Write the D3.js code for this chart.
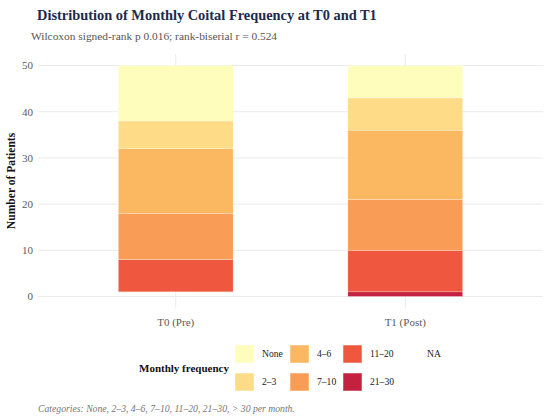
<!DOCTYPE html>
<html><head><meta charset="utf-8">
<script src="https://cdn.jsdelivr.net/npm/d3@7/dist/d3.min.js"></script>
<style>body{margin:0;background:#fff}svg{display:block}</style>
</head><body><svg id="c" width="550" height="419"></svg>
<script>
const timepoints = ["T0 (Pre)", "T1 (Post)"];
const categories = ["None", "2–3", "4–6", "7–10", "11–20", "21–30", "NA"];
const countsT0 = [12, 6, 14, 10, 7, 0, 1];
const countsT1 = [7, 7, 15, 11, 9, 1, 0];
const colors = ["#fefdbb", "#fddb87", "#fbb860", "#f99c55", "#f0573f", "#c4203f", "none"];
const yTicks = [0, 10, 20, 30, 40, 50];

(function(){
const svg = d3.select("#c");
const serif = "'Liberation Serif','Times New Roman',serif";
const pL = 38, pR = 543, pT = 54, pB = 308;

const x = d3.scaleBand().domain(timepoints).range([pL, pR]).paddingInner(0).paddingOuter(0.1);
const xc = d => x(d) + x.bandwidth() / 2;
const y = d3.scaleLinear().domain([-2.5, 52.5]).range([pB, pT]);

// grid
svg.append("g").selectAll("line").data(yTicks).join("line")
  .attr("x1", pL).attr("x2", pR).attr("y1", d => y(d)).attr("y2", d => y(d))
  .attr("stroke", "#ebebeb").attr("stroke-width", 1);
svg.append("g").selectAll("line").data(timepoints).join("line")
  .attr("x1", d => xc(d)).attr("x2", d => xc(d)).attr("y1", pT).attr("y2", pB)
  .attr("stroke", "#ebebeb").attr("stroke-width", 1);

// stacked bars (NA at bottom, None at top)
const rows = [countsT0, countsT1];
const barW = x.bandwidth() * 0.5;
timepoints.forEach((tp, i) => {
  const vals = rows[i];
  let cum = 0;
  const segs = [];
  for (let k = categories.length - 1; k >= 0; k--) {
    segs.push({k, y0: cum, y1: cum + vals[k]});
    cum += vals[k];
  }
  svg.append("g").selectAll("rect").data(segs.filter(s => s.y1 > s.y0 && colors[s.k] !== "none")).join("rect")
    .attr("x", xc(tp) - barW / 2).attr("width", barW)
    .attr("y", s => y(s.y1)).attr("height", s => y(s.y0) - y(s.y1))
    .attr("fill", s => colors[s.k])
    .attr("stroke", "rgba(255,255,255,0.5)").attr("stroke-width", 0.5);
});

// y axis labels
svg.append("g").selectAll("text").data(yTicks).join("text")
  .attr("x", 33).attr("y", d => y(d)).attr("dy", "0.35em").attr("text-anchor", "end")
  .attr("font-family", serif).attr("font-size", 11).attr("fill", "#5a5a5a").text(d => d);
// x axis labels
svg.append("g").selectAll("text").data(timepoints).join("text")
  .attr("x", d => xc(d)).attr("y", 326).attr("text-anchor", "middle")
  .attr("font-family", serif).attr("font-size", 11).attr("fill", "#5a5a5a").text(d => d);

// y title
svg.append("text").attr("transform", `translate(15,${(pT + pB) / 2}) rotate(-90)`)
  .attr("text-anchor", "middle").attr("font-family", serif).attr("font-weight", "bold")
  .attr("font-size", 11.6).attr("fill", "#111").text("Number of Patients");

// title & subtitle
svg.append("text").attr("x", 37).attr("y", 20).attr("font-family", serif).attr("font-weight", "bold")
  .attr("font-size", 14.4).attr("fill", "#1b2b4b").text("Distribution of Monthly Coital Frequency at T0 and T1");
svg.append("text").attr("x", 31).attr("y", 40).attr("font-family", serif)
  .attr("font-size", 11.4).attr("fill", "#555").text("Wilcoxon signed-rank p 0.016; rank-biserial r = 0.524");

// legend
svg.append("text").attr("x", 139).attr("y", 372).attr("font-family", serif).attr("font-weight", "bold")
  .attr("font-size", 11).attr("fill", "#111").text("Monthly frequency");
const colX = [235, 290, 343, 400];
const rowY = [345, 373];
const leg = svg.append("g").selectAll("g").data(categories).join("g")
  .attr("transform", (d, i) => `translate(${colX[Math.floor(i / 2)]},${rowY[i % 2]})`);
leg.append("rect").attr("width", 19).attr("height", 18)
  .attr("fill", (d, i) => colors[i]).attr("stroke", (d, i) => colors[i] === "none" ? "none" : "rgba(255,255,255,0.5)");
leg.append("text").attr("x", 27).attr("y", 9).attr("dy", "0.35em")
  .attr("font-family", serif).attr("font-size", 9.6).attr("fill", "#222").text(d => d);

// caption
svg.append("text").attr("x", 38).attr("y", 412).attr("font-family", serif).attr("font-style", "italic")
  .attr("font-size", 9.7).attr("fill", "#777").text("Categories: None, 2–3, 4–6, 7–10, 11–20, 21–30, > 30 per month.");
})();
</script></body></html>
